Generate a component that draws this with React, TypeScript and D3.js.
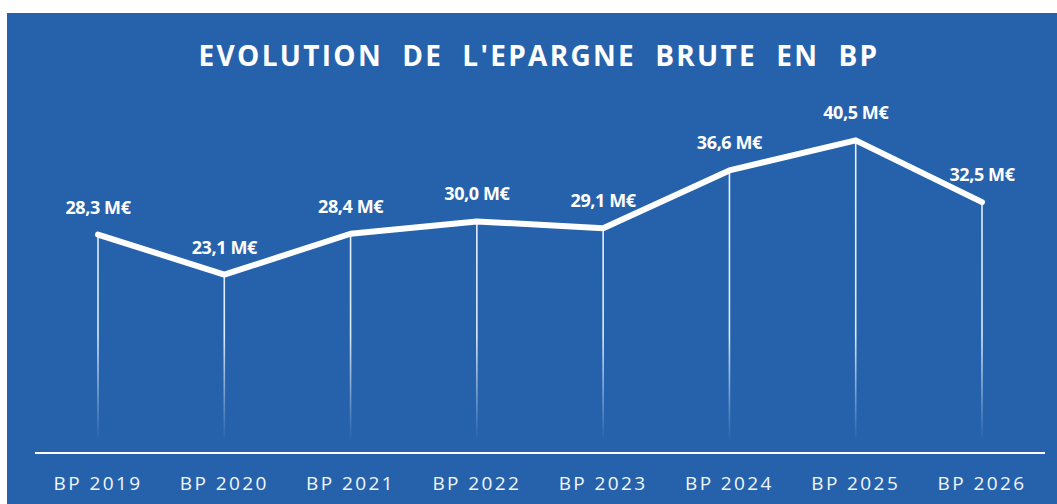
import { useRef, useEffect } from "react";
import * as d3 from "d3";

const years = ["BP 2019", "BP 2020", "BP 2021", "BP 2022", "BP 2023", "BP 2024", "BP 2025", "BP 2026"];
const epargne = [28.3, 23.1, 28.4, 30.0, 29.1, 36.6, 40.5, 32.5];
const title = "EVOLUTION  DE  L'EPARGNE  BRUTE  EN  BP";

const fmt = (v: number) => `${v.toFixed(1).replace(".", ",")} M€`;

export default function App() {
  const ref = useRef<SVGSVGElement>(null);

  useEffect(() => {
    const svg = d3.select(ref.current);
    const width = 1057;
    const height = 504;
    const baseY = 453;

    svg.selectAll("*").remove();
    svg.attr("width", width).attr("height", height);

    // fond
    svg.append("rect").attr("width", width).attr("height", height).attr("fill", "#ffffff");
    svg.append("rect")
      .attr("x", 7).attr("y", 13)
      .attr("width", width - 7).attr("height", height - 13)
      .attr("fill", "#2662ab");

    const x = d3.scalePoint<string>().domain(years).range([98, 982]);
    const y = d3.scaleLinear().domain([0, 45]).range([baseY, baseY - 45 * 7.72]);

    // dégradé des lignes verticales
    const defs = svg.append("defs");
    const grad = defs.append("linearGradient")
      .attr("id", "dropFade")
      .attr("gradientUnits", "userSpaceOnUse")
      .attr("x1", 0).attr("x2", 0)
      .attr("y1", 140).attr("y2", 440);
    grad.append("stop").attr("offset", "0%").attr("stop-color", "#e6f2ff").attr("stop-opacity", 1);
    grad.append("stop").attr("offset", "65%").attr("stop-color", "#e6f2ff").attr("stop-opacity", 0.95);
    grad.append("stop").attr("offset", "100%").attr("stop-color", "#e6f2ff").attr("stop-opacity", 0);

    // titre
    svg.append("text")
      .attr("x", 539).attr("y", 66)
      .attr("text-anchor", "middle")
      .style("font-family", "'Open Sans', sans-serif")
      .style("font-weight", 700)
      .style("font-size", "28px")
      .style("letter-spacing", "2.3px")
      .style("white-space", "pre")
      .attr("fill", "#ffffff")
      .text(title);

    const data = years.map((k, i) => ({ k, v: epargne[i] }));

    // lignes verticales
    svg.append("g")
      .selectAll("line")
      .data(data)
      .enter()
      .append("line")
      .attr("x1", (d) => x(d.k)!)
      .attr("x2", (d) => x(d.k)!)
      .attr("y1", (d) => y(d.v))
      .attr("y2", baseY - 2)
      .attr("stroke", "url(#dropFade)")
      .attr("stroke-width", 1.6);

    // axe
    svg.append("line")
      .attr("x1", 35).attr("x2", 1045)
      .attr("y1", baseY).attr("y2", baseY)
      .attr("stroke", "#ffffff")
      .attr("stroke-width", 2);

    // courbe
    const line = d3.line<{ k: string; v: number }>()
      .x((d) => x(d.k)!)
      .y((d) => y(d.v));
    svg.append("path")
      .datum(data)
      .attr("d", line)
      .attr("fill", "none")
      .attr("stroke", "#ffffff")
      .attr("stroke-width", 6)
      .attr("stroke-linejoin", "round")
      .attr("stroke-linecap", "round");

    // étiquettes de valeurs
    svg.append("g")
      .selectAll("text")
      .data(data)
      .enter()
      .append("text")
      .attr("x", (d) => x(d.k)!)
      .attr("y", (d) => y(d.v) - 21)
      .attr("text-anchor", "middle")
      .style("font-family", "'Open Sans', sans-serif")
      .style("font-weight", 700)
      .style("font-size", "18px")
      .style("letter-spacing", "-0.4px")
      .attr("fill", "#ffffff")
      .text((d) => fmt(d.v));

    // labels de l'axe
    svg.append("g")
      .selectAll("text")
      .data(years)
      .enter()
      .append("text")
      .attr("x", (d) => x(d)!)
      .attr("y", 490)
      .attr("text-anchor", "middle")
      .style("font-family", "'Open Sans', sans-serif")
      .style("font-size", "19px")
      .style("letter-spacing", "2.4px")
      .attr("fill", "#f2f6ff")
      .text((d) => d);
  }, []);

  return <svg ref={ref} style={{ position: "absolute", left: 0, top: 0 }}></svg>;
}
